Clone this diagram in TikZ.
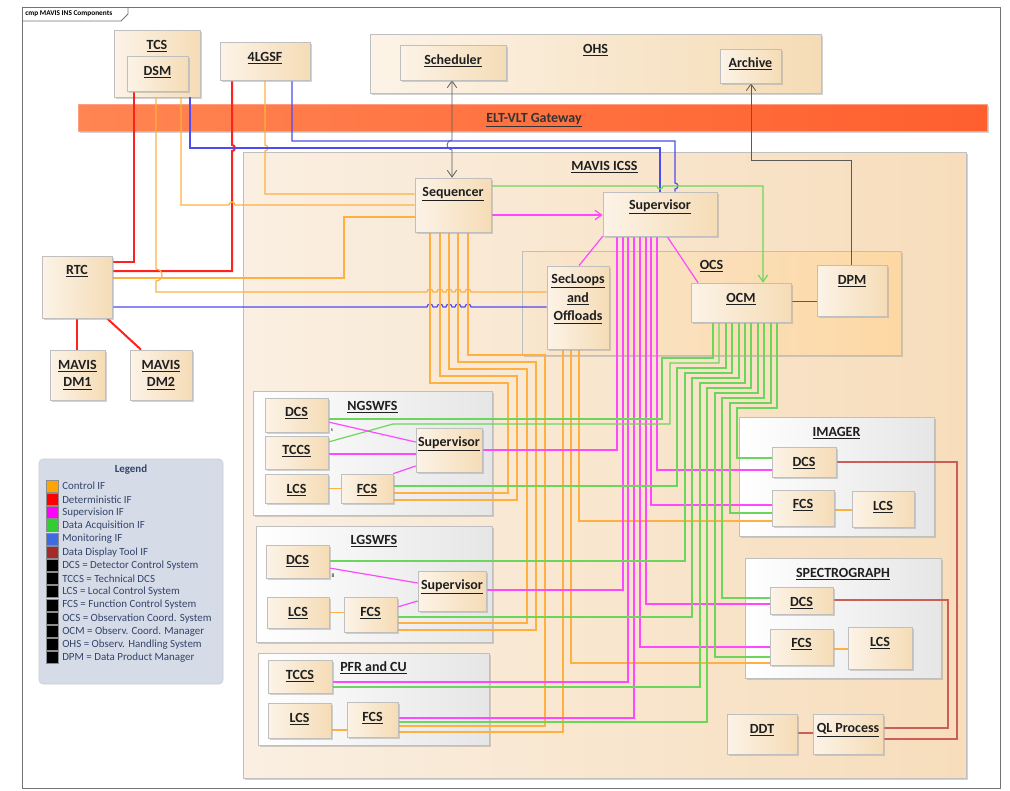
\documentclass[tikz,border=0pt]{standalone}
\usepackage{fontspec}
\setmainfont{Carlito}
\usetikzlibrary{positioning,fit,shadows,arrows.meta}

\definecolor{compl}{HTML}{FCF3E7}
\definecolor{compr}{HTML}{F5DCB6}
\definecolor{icssl}{HTML}{FAEFE2}
\definecolor{icssr}{HTML}{F7DDBB}
\definecolor{ocsl}{HTML}{F8E6CE}
\definecolor{ocsr}{HTML}{FDD8A4}
\definecolor{instl}{HTML}{FFFFFF}
\definecolor{instr}{HTML}{E6E6E6}
\definecolor{gatel}{HTML}{FF8552}
\definecolor{gater}{HTML}{FF5F2E}
\definecolor{legbg}{HTML}{D5DBE7}
\definecolor{legtx}{HTML}{34446A}
\definecolor{ctrlc}{HTML}{FFB040}
\definecolor{detc}{HTML}{FF2020}
\definecolor{supc}{HTML}{FF48FF}
\definecolor{daqc}{HTML}{6CD65C}
\definecolor{monc}{HTML}{4C4CF0}
\definecolor{ddtc}{HTML}{CC5E58}
\definecolor{gwc}{HTML}{5A5A5A}
\definecolor{legor}{HTML}{FFA500}
\definecolor{legred}{HTML}{FF0000}
\definecolor{legmag}{HTML}{FF00FF}
\definecolor{leggrn}{HTML}{32CD32}
\definecolor{legblu}{HTML}{4169E1}
\definecolor{legbrn}{HTML}{A52A2A}

\pgfdeclarelayer{bg}
\pgfdeclarelayer{wires}
\pgfsetlayers{bg,wires,main}

\tikzset{
  box/.style={draw=black!25, line width=0.5pt, inner sep=0pt,
    drop shadow={shadow xshift=1.5pt, shadow yshift=-1.5pt, fill=black!35, opacity=0.5}},
  comp/.style={box, left color=compl, right color=compr},
  icss/.style={box, left color=icssl, right color=icssr},
  ocsbox/.style={box, left color=ocsl, right color=ocsr},
  inst/.style={box, left color=instl, right color=instr},
  gate/.style={box, draw=gater!60!white, left color=gatel, right color=gater},
  legbox/.style={draw=black!20, fill=legbg, rounded corners=3pt, inner sep=0pt},
  lbl/.style={font=\bfseries\fontsize{10.5}{13}\selectfont, text=black!88, inner sep=0pt, align=center},
  wire/.style={line width=0.9pt},
  ctrl/.style={wire, draw=ctrlc},
  det/.style={line width=1.5pt, draw=detc},
  sup/.style={wire, draw=supc},
  daq/.style={wire, draw=daqc},
  mon/.style={wire, draw=monc},
  ddt/.style={wire, draw=ddtc},
  gw/.style={line width=0.6pt, draw=gwc},
  openarr/.style={-{Straight Barb[length=5pt,width=7pt]}},
  swatch/.style={draw=black!45, line width=0.5pt, minimum size=9pt, inner sep=0pt},
  legtxt/.style={anchor=west, font=\fontsize{8.2}{9.5}\selectfont, text=legtx, inner sep=0pt},
}

\newcommand{\lab}[1]{\underline{#1}}
% box between two corners, label centred at a given height
\newcommand{\elem}[8][comp]{%
  \node[#1, fit={(#3,#4) (#5,#6)}] (#2) {};
  \node[lbl] (#2-t) at ({(#3+#5)/2},#7) {#8};}

\begin{document}
\begin{tikzpicture}[x=0.0264cm, y=-0.0264cm]
  \useasboundingbox (0,0) rectangle (1010,790);

  \begin{pgfonlayer}{bg}
    % frame
    \draw[black!55, line width=0.6pt] (22,7) rectangle (1000,788);
    \draw[black!55, line width=0.6pt] (22,21) -- (121,21) -- (128,14) -- (128,7);
    \node[anchor=west, inner sep=0pt, font=\bfseries\fontsize{5.5}{6}\selectfont] (frt) at (25,14) {cmp MAVIS INS Components};

    \elem{tcs}{114}{30}{200}{97}{46}{\lab{TCS}}
    \elem{ohs}{370}{34}{821}{93}{50}{\lab{OHS}}
    \node[gate, fit={(78,104) (987,131)}] (gwy) {};
    \node[lbl, text=black!80] (gwy-t) at (534,120) {\lab{ELT-VLT Gateway}};
    \elem[icss]{icss}{243}{152}{966}{778}{167}{\lab{MAVIS ICSS}}
    \elem[ocsbox]{ocs}{522}{251}{901}{355}{266}{\lab{OCS}}
    \elem[inst]{ngs}{253}{391}{492}{515}{407}{\lab{NGSWFS}}
    \elem[inst]{lgs}{256}{526}{492}{642}{541}{\lab{LGSWFS}}
    \elem[inst]{pfr}{258}{653}{489}{745}{668}{\lab{PFR and CU}}
    \elem[inst]{img}{739}{417}{934}{536}{433}{\lab{IMAGER}}
    \elem[inst]{spc}{745}{558}{941}{678}{574}{\lab{SPECTROGRAPH}}

    % legend
    \node[legbox, fit={(39,459) (223,684)}] (leg) {};
    \node[font=\bfseries\fontsize{8.2}{9.5}\selectfont, text=legtx, inner sep=0pt] (leg-t) at (131,470) {Legend};
    \foreach \c/\t [count=\i] in {legor/Control IF, legred/Deterministic IF,
        legmag/Supervision IF, leggrn/Data Acquisition IF, legblu/Monitoring IF,
        legbrn/Data Display Tool IF, black/DCS = Detector Control System,
        black/TCCS = Technical DCS, black/LCS = Local Control System,
        black/FCS = Function Control System, black/OCS = Observation Coord. System,
        black/OCM = Observ. Coord. Manager, black/OHS = Observ. Handling System,
        black/DPM = Data Product Manager} {
      \node[swatch, fill=\c] (sw\i) at (52,{473+13.2*\i}) {};
      \node[legtxt] (lg\i) at (62,{473+13.2*\i}) {\t};
    }
  \end{pgfonlayer}

  % components
  \elem{dsm}{127}{56}{188}{91}{72}{\lab{DSM}}
  \elem{lgsf}{220}{42}{310}{80}{58}{\lab{4LGSF}}
  \elem{sched}{400}{45}{506}{80}{61}{\lab{Scheduler}}
  \elem{archive}{720}{49}{781}{83}{64}{\lab{Archive}}
  \elem{rtc}{42}{256}{112}{318}{271}{\lab{RTC}}
  \elem{dm1}{50}{350}{105}{400}{375}{\lab{MAVIS}\\\lab{DM1}}
  \elem{dm2}{130}{350}{192}{400}{375}{\lab{MAVIS}\\\lab{DM2}}
  \elem{seq}{415}{178}{491}{232}{194}{\lab{Sequencer}}
  \elem{sup}{603}{192}{717}{236}{207}{\lab{Supervisor}}
  \elem{secl}{547}{266}{609}{349}{299}{\lab{SecLoops}\\[1pt]\lab{and}\\[1pt]\lab{Offloads}}
  \elem{ocm}{691}{283}{791}{322}{299}{\lab{OCM}}
  \elem{dpm}{817}{265}{887}{316}{281}{\lab{DPM}}

  \elem{ngdcs}{265}{398}{328}{432}{413}{\lab{DCS}}
  \elem{ngtccs}{265}{436}{328}{469}{451}{\lab{TCCS}}
  \elem{nglcs}{265}{474}{328}{503}{490}{\lab{LCS}}
  \elem{ngfcs}{341}{474}{393}{503}{490}{\lab{FCS}}
  \elem{ngsup}{416}{428}{482}{472}{444}{\lab{Supervisor}}
  \node[inner sep=0pt, font=\fontsize{4}{4}\selectfont] (ngs-s) at (332,430) {s};

  \elem{lgdcs}{266}{545}{329}{578}{561}{\lab{DCS}}
  \elem{lgsup}{418}{571}{486}{611}{587}{\lab{Supervisor}}
  \elem{lglcs}{267}{597}{329}{628}{613}{\lab{LCS}}
  \elem{lgfcs}{344}{597}{397}{632}{613}{\lab{FCS}}
  \node[inner sep=0pt, font=\fontsize{4}{4}\selectfont] (lgs-s) at (333,576) {8};

  \elem{pftccs}{268}{660}{332}{693}{676}{\lab{TCCS}}
  \elem{pflcs}{268}{703}{331}{738}{719}{\lab{LCS}}
  \elem{pffcs}{347}{702}{398}{737}{718}{\lab{FCS}}

  \elem{imdcs}{772}{447}{836}{477}{463}{\lab{DCS}}
  \elem{imfcs}{772}{490}{834}{526}{505}{\lab{FCS}}
  \elem{imlcs}{852}{491}{914}{527}{507}{\lab{LCS}}
  \elem{spdcs}{770}{587}{833}{614}{603}{\lab{DCS}}
  \elem{spfcs}{770}{629}{833}{665}{644}{\lab{FCS}}
  \elem{splcs}{848}{627}{912}{669}{643}{\lab{LCS}}
  \elem{ddt}{727}{714}{797}{754}{730}{\lab{DDT}}
  \elem{ql}{813}{714}{883}{754}{730}{\lab{QL Process}}

  \begin{pgfonlayer}{wires}
    % OHS / gateway
    \draw[gw, {Straight Barb[length=5pt,width=7pt]}-{Straight Barb[length=5pt,width=7pt]}]
      (sched.south -| 452,0) -- (452,140) arc[start angle=270, end angle=90, radius=5] -- (seq.north -| 452,0);
    \draw[gw, openarr] (dpm.north -| 851,0) |- (751,160) -- (archive.south -| 751,0);
    \draw[gw] (ocm.east |- 0,301) -- (dpm.west |- 0,301);

    % deterministic
    \draw[det] (dsm.south -| 134,0) |- (rtc.east |- 0,262);
    \draw[det] (lgsf.south -| 232,0) -- (232,145) arc[start angle=270, end angle=450, radius=3] -- (232,271) -- (rtc.east |- 0,271);
    \draw[det] (rtc.south -| 77,0) -- (dm1.north -| 77,0);
    \draw[det] (rtc.south -| 107,0) -- (dm2.north -| 141,0);

    % control, top
    \draw[ctrl] (tcs.south -| 156,0) -- (156,269) arc[start angle=270, end angle=450, radius=6] -- (156,292)
      foreach \h in {430,440,449,458,468} { -- ({\h-3},292) arc[start angle=180, end angle=360, radius=3] }
      -- (secl.west |- 0,292);
    \draw[ctrl] (tcs.south -| 181,0) -- (181,205) -- (229,205) arc[start angle=180, end angle=360, radius=3] -- (seq.west |- 0,205);
    \draw[ctrl] (lgsf.south -| 265,0) -- (265,145) arc[start angle=270, end angle=450, radius=3] -- (265,194) -- (seq.west |- 0,194);
    \draw[ctrl] (rtc.east |- 0,278) -| (344,217) -- (seq.west |- 0,217);

    % monitoring
    \draw[mon] (tcs.south -| 190,0) |- (660,148) -- (sup.north -| 660,0);
    \draw[mon] (lgsf.south -| 292,0) |- (675,141) -- (675,183) arc[start angle=270, end angle=450, radius=3] -- (sup.north -| 675,0);
    \draw[mon] (rtc.east |- 0,307)
      foreach \h in {430,440,449,458,468} { -- ({\h-3},307) arc[start angle=180, end angle=360, radius=3] }
      -- (secl.west |- 0,307);

    % sequencer / supervisor / OCS
    \draw[daq, openarr] (seq.east |- 0,186) -- (657,186) arc[start angle=180, end angle=0, radius=3] -- (763,186) -- (ocm.north -| 763,0);
    \draw[sup, openarr] (seq.east |- 0,215) -- (sup.west |- 0,215);
    \draw[sup] (sup.south west) -- (secl.north -| 579,0);
    \draw[sup] (sup.south -| 667,0) -- (ocm.north -| 698,0);

    % control bus
    \draw[ctrl] (seq.south -| 430,0) |- (508,383) |- (ngfcs.east |- 0,493);
    \draw[ctrl] (seq.south -| 440,0) |- (517,376) |- (ngfcs.east |- 0,500);
    \draw[ctrl] (seq.south -| 449,0) |- (527,369) |- (lgfcs.east |- 0,623);
    \draw[ctrl] (seq.south -| 458,0) |- (536,362) |- (lgfcs.east |- 0,630);
    \draw[ctrl] (seq.south -| 468,0) |- (545,355) |- (pffcs.east |- 0,726);
    \draw[ctrl] (secl.south -| 563,0) |- (pffcs.east |- 0,732);
    \draw[ctrl] (secl.south -| 571,0) |- (spfcs.west |- 0,663);
    \draw[ctrl] (secl.south -| 579,0) |- (imfcs.west |- 0,521);

    % supervision bus
    \draw[sup] (sup.south -| 617,0) |- (ngsup.east |- 0,450);
    \draw[sup] (sup.south -| 623,0) |- (lgsup.east |- 0,590);
    \draw[sup] (sup.south -| 628,0) |- (pftccs.east |- 0,682);
    \draw[sup] (sup.south -| 634,0) |- (pffcs.east |- 0,718);
    \draw[sup] (sup.south -| 640,0) |- (spfcs.west |- 0,647);
    \draw[sup] (sup.south -| 646,0) |- (spdcs.west |- 0,604);
    \draw[sup] (sup.south -| 651,0) |- (imfcs.west |- 0,505);
    \draw[sup] (sup.south -| 657,0) |- (imdcs.west |- 0,470);

    % data acquisition bus
    \draw[daq] (ocm.south -| 713,0) |- (662,358) |- (ngdcs.east |- 0,419);
    \draw[daq] (ocm.south -| 719,0) |- (670,363) |- (393,424) -- (ngtccs.east |- 0,442);
    \draw[daq] (ocm.south -| 726,0) |- (677,368) |- (ngfcs.east |- 0,486);
    \draw[daq] (ocm.south -| 732,0) |- (685,373) |- (lgdcs.east |- 0,561);
    \draw[daq] (ocm.south -| 739,0) |- (692,378) |- (lgfcs.east |- 0,617);
    \draw[daq] (ocm.south -| 745,0) |- (700,383) |- (pftccs.east |- 0,687);
    \draw[daq] (ocm.south -| 751,0) |- (707,388) |- (pffcs.east |- 0,722);
    \draw[daq] (ocm.south -| 758,0) |- (715,393) |- (spfcs.west |- 0,657);
    \draw[daq] (ocm.south -| 764,0) |- (722,398) |- (spdcs.west |- 0,598);
    \draw[daq] (ocm.south -| 771,0) |- (730,403) |- (imfcs.west |- 0,513);
    \draw[daq] (ocm.south -| 777,0) |- (737,408) |- (imdcs.west |- 0,458);

    % inside the subsystems
    \draw[sup] (ngdcs.east |- 0,422) -- (ngsup.west |- 0,442);
    \draw[sup] (ngtccs.east |- 0,454) -- (ngsup.west |- 0,454);
    \draw[sup] (ngfcs.north east) -- (ngsup.west |- 0,466);
    \draw[ctrl] (nglcs.east) -- (ngfcs.west);
    \draw[sup] (lgdcs.east |- 0,568) -- (lgsup.west |- 0,583);
    \draw[sup] (lgfcs.east |- 0,607) -- (lgsup.west |- 0,601);
    \draw[ctrl] (lglcs.east) -- (lgfcs.west |- lglcs.east);
    \draw[ctrl] (pflcs.east |- 0,730) -- (pffcs.west |- 0,730);
    \draw[ctrl] (imfcs.east |- 0,510) -- (imlcs.west |- 0,510);
    \draw[ctrl] (spfcs.east |- 0,649) -- (splcs.west |- 0,649);

    % data display
    \draw[ddt] (ddt.east |- 0,733) -- (ql.west |- 0,733);
    \draw[ddt] (imdcs.east |- 0,462) -| (957,739) -- (ql.east |- 0,739);
    \draw[ddt] (spdcs.east |- 0,600) -| (948,728) -- (ql.east |- 0,728);
  \end{pgfonlayer}
\end{tikzpicture}
\end{document}
